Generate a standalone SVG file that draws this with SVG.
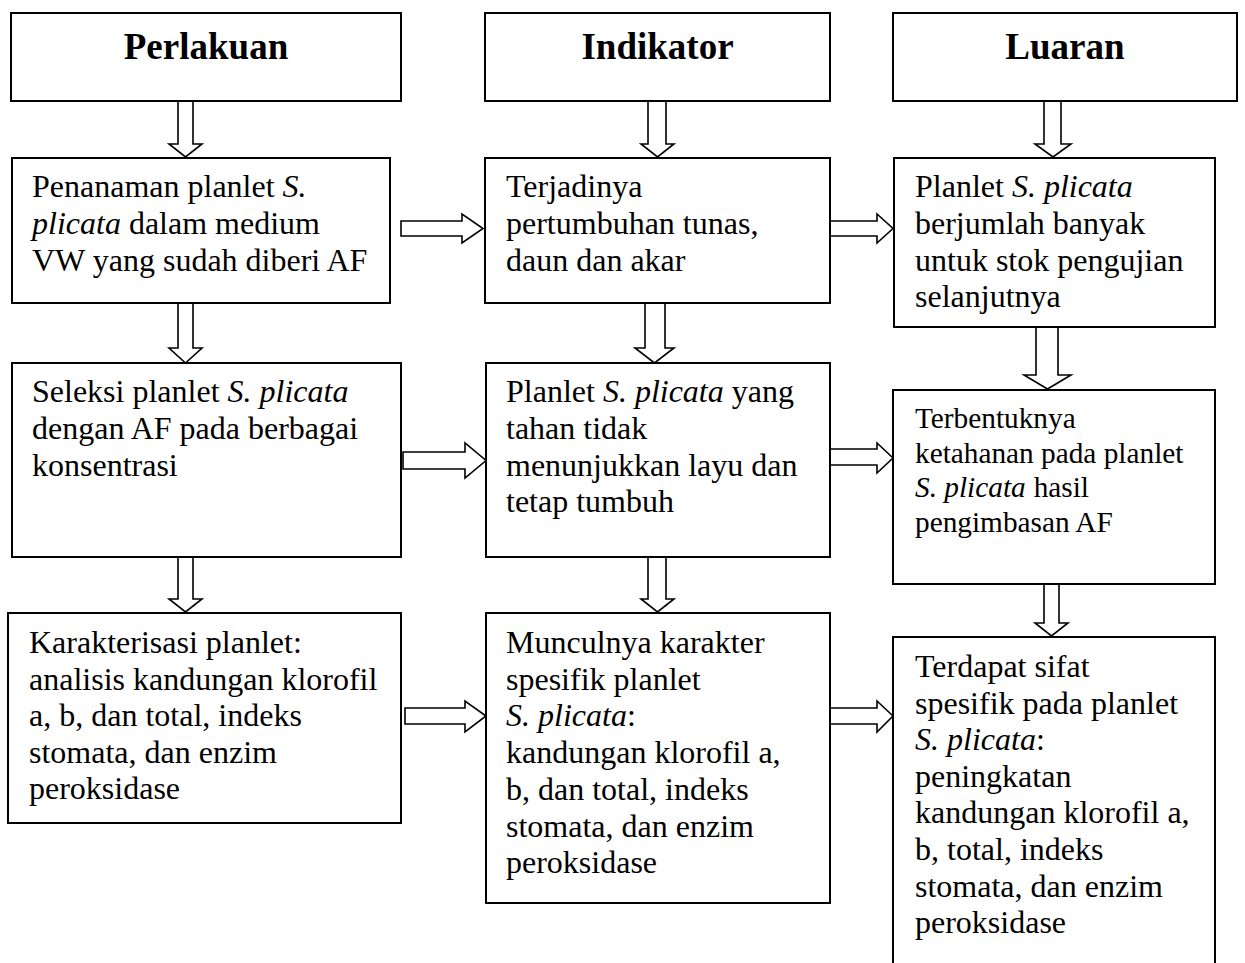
<svg xmlns="http://www.w3.org/2000/svg" width="1245" height="963" viewBox="0 0 1245 963">
<style>
.box{fill:#fff;stroke:#000;stroke-width:2}
.arr{fill:#fff;stroke:#000;stroke-width:1.6;stroke-linejoin:miter}
.hd{font-family:"Liberation Serif","Times New Roman",serif;font-weight:bold;font-size:37px;fill:#000;text-anchor:middle}
.tx{font-family:"Liberation Serif","Times New Roman",serif;font-size:32px;fill:#000}
.sm{font-size:29.3px}
.i{font-style:italic}
</style>
<rect width="1245" height="963" fill="#fff"/>
<g id="connectors">
<polygon class="arr" points="178,101 193,101 193,144 202,144 185.5,157 169,144 178,144"/>
<polygon class="arr" points="648,101 666,101 666,144 674,144 657.5,157 641,144 648,144"/>
<polygon class="arr" points="1044,101 1061,101 1061,144 1071,144 1053,157 1035,144 1044,144"/>
<polygon class="arr" points="178,303 193,303 193,348 202,348 185.5,363 169,348 178,348"/>
<polygon class="arr" points="645,303 665,303 665,348 674,348 654.5,363 635,348 645,348"/>
<polygon class="arr" points="1036,327 1058,327 1058,375 1071,375 1047.5,389 1024,375 1036,375"/>
<polygon class="arr" points="178,557 193,557 193,599 202,599 185.5,612 169,599 178,599"/>
<polygon class="arr" points="648,557 666,557 666,599 674,599 657.5,612 641,599 648,599"/>
<polygon class="arr" points="1044,584 1059,584 1059,623 1068,623 1051.5,636 1035,623 1044,623"/>
<polygon class="arr" points="401,221 462,221 462,214 483,228.5 462,243 462,236 401,236"/>
<polygon class="arr" points="830,221 877,221 877,214 893,228.5 877,243 877,236 830,236"/>
<polygon class="arr" points="403,452 465,452 465,443 486,460.5 465,478 465,469 403,469"/>
<polygon class="arr" points="830,449 877,449 877,443 893,458 877,473 877,465 830,465"/>
<polygon class="arr" points="405,708 465,708 465,701 486,716 465,732 465,724 405,724"/>
<polygon class="arr" points="830,708 877,708 877,701 893,716 877,732 877,724 830,724"/>
</g>
<g id="perlakuan">
<rect class="box" x="11" y="13" width="390" height="88"/>
<text class="hd" x="206" y="59">Perlakuan</text>
</g>
<g id="indikator">
<rect class="box" x="485" y="13" width="345" height="88"/>
<text class="hd" x="657.5" y="59">Indikator</text>
</g>
<g id="luaran">
<rect class="box" x="893" y="13" width="344" height="88"/>
<text class="hd" x="1065" y="59">Luaran</text>
</g>
<g id="penanaman">
<rect class="box" x="12" y="158" width="378" height="145"/>
<text class="tx"><tspan x="32" y="197">Penanaman planlet <tspan class="i">S.</tspan></tspan><tspan x="32" y="233.8"><tspan class="i">plicata</tspan> dalam medium</tspan><tspan x="32" y="270.6">VW yang sudah diberi AF</tspan></text>
</g>
<g id="terjadinya">
<rect class="box" x="485" y="158" width="345" height="145"/>
<text class="tx"><tspan x="506" y="197">Terjadinya</tspan><tspan x="506" y="233.8">pertumbuhan tunas,</tspan><tspan x="506" y="270.6">daun dan akar</tspan></text>
</g>
<g id="planlet-banyak">
<rect class="box" x="894" y="158" width="321" height="169"/>
<text class="tx"><tspan x="915" y="197">Planlet <tspan class="i">S. plicata</tspan></tspan><tspan x="915" y="233.8">berjumlah banyak</tspan><tspan x="915" y="270.6">untuk stok pengujian</tspan><tspan x="915" y="307.4">selanjutnya</tspan></text>
</g>
<g id="seleksi">
<rect class="box" x="12" y="363" width="389" height="194"/>
<text class="tx"><tspan x="32" y="402">Seleksi planlet <tspan class="i">S. plicata</tspan></tspan><tspan x="32" y="438.8">dengan AF pada berbagai</tspan><tspan x="32" y="475.6">konsentrasi</tspan></text>
</g>
<g id="planlet-tahan">
<rect class="box" x="486" y="363" width="344" height="194"/>
<text class="tx"><tspan x="506" y="402">Planlet <tspan class="i">S. plicata</tspan> yang</tspan><tspan x="506" y="438.8">tahan tidak</tspan><tspan x="506" y="475.6">menunjukkan layu dan</tspan><tspan x="506" y="512.4">tetap tumbuh</tspan></text>
</g>
<g id="terbentuknya">
<rect class="box" x="893" y="390" width="322" height="194"/>
<text class="tx sm"><tspan x="915" y="428">Terbentuknya</tspan><tspan x="915" y="462.7">ketahanan pada planlet</tspan><tspan x="915" y="497.4"><tspan class="i">S. plicata</tspan><tspan dx="8">hasil</tspan></tspan><tspan x="915" y="532.1">pengimbasan AF</tspan></text>
</g>
<g id="karakterisasi">
<rect class="box" x="8" y="613" width="393" height="210"/>
<text class="tx"><tspan x="29" y="653">Karakterisasi planlet:</tspan><tspan x="29" y="689.6">analisis kandungan klorofil</tspan><tspan x="29" y="726.2">a, b, dan total, indeks</tspan><tspan x="29" y="762.8">stomata, dan enzim</tspan><tspan x="29" y="799.4">peroksidase</tspan></text>
</g>
<g id="munculnya">
<rect class="box" x="486" y="613" width="344" height="290"/>
<text class="tx"><tspan x="506" y="653">Munculnya karakter</tspan><tspan x="506" y="689.7">spesifik planlet</tspan><tspan x="506" y="726.4"><tspan class="i">S. plicata</tspan>:</tspan><tspan x="506" y="763.1">kandungan klorofil a,</tspan><tspan x="506" y="799.8">b, dan total, indeks</tspan><tspan x="506" y="836.5">stomata, dan enzim</tspan><tspan x="506" y="873.2">peroksidase</tspan></text>
</g>
<g id="terdapat">
<rect class="box" x="893" y="637" width="322" height="340"/>
<text class="tx"><tspan x="915" y="677">Terdapat sifat</tspan><tspan x="915" y="713.6">spesifik pada planlet</tspan><tspan x="915" y="750.2"><tspan class="i">S. plicata</tspan>:</tspan><tspan x="915" y="786.8">peningkatan</tspan><tspan x="915" y="823.4">kandungan klorofil a,</tspan><tspan x="915" y="860">b, total, indeks</tspan><tspan x="915" y="896.6">stomata, dan enzim</tspan><tspan x="915" y="933.2">peroksidase</tspan></text>
</g>
</svg>
